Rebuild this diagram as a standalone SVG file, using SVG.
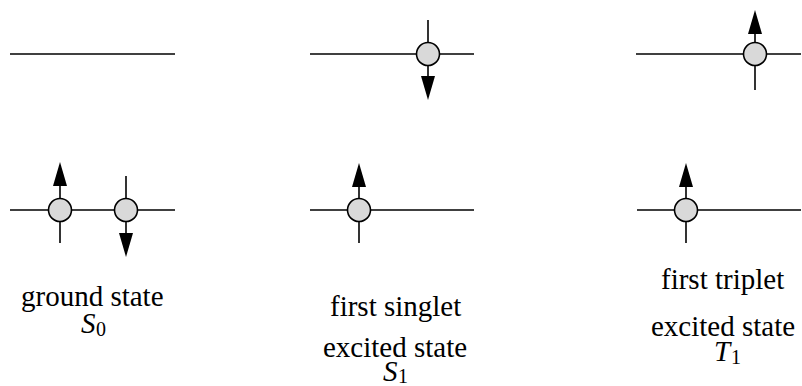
<svg xmlns="http://www.w3.org/2000/svg" width="802" height="386" viewBox="0 0 802 386">
<defs>
<circle id="e" r="11.5" fill="#d9d9d9" stroke="#000" stroke-width="1.6"/>
<polygon id="up" points="0,0 -7,24 7,24" fill="#000"/>
<polygon id="down" points="0,0 -7,-24 7,-24" fill="#000"/>
</defs>
<rect width="802" height="386" fill="#fff"/>
<g id="ground-state">
<g stroke="#000" stroke-width="1.6" fill="none">
<line x1="10" y1="54" x2="175" y2="54"/>
<line x1="10" y1="210" x2="175" y2="210"/>
<line x1="60" y1="243" x2="60" y2="186"/>
<line x1="126" y1="176" x2="126" y2="234"/>
</g>
<use href="#up" x="60" y="162"/>
<use href="#e" x="60" y="210"/>
<use href="#down" x="126" y="257"/>
<use href="#e" x="126" y="210"/>
<text x="21" y="306" font-family="serif" font-size="29">ground state</text>
<text x="81" y="333" font-family="serif" font-size="29" font-style="italic">S</text>
<text x="96" y="336" font-family="serif" font-size="20">0</text>
</g>
<g id="first-singlet">
<g stroke="#000" stroke-width="1.6" fill="none">
<line x1="310" y1="54" x2="474" y2="54"/>
<line x1="428" y1="20" x2="428" y2="78"/>
<line x1="310" y1="210" x2="474" y2="210"/>
<line x1="359" y1="243" x2="359" y2="186"/>
</g>
<use href="#down" x="428" y="100"/>
<use href="#e" x="428" y="54"/>
<use href="#up" x="359" y="163"/>
<use href="#e" x="359" y="210"/>
<text x="330" y="316" font-family="serif" font-size="29">first singlet</text>
<text x="323" y="357" font-family="serif" font-size="29">excited state</text>
<text x="383" y="381" font-family="serif" font-size="29" font-style="italic">S</text>
<text x="398" y="383" font-family="serif" font-size="20">1</text>
</g>
<g id="first-triplet">
<g stroke="#000" stroke-width="1.6" fill="none">
<line x1="636" y1="54" x2="801" y2="54"/>
<line x1="755" y1="90" x2="755" y2="32"/>
<line x1="637" y1="210" x2="801" y2="210"/>
<line x1="686" y1="243" x2="686" y2="186"/>
</g>
<use href="#up" x="755" y="10"/>
<use href="#e" x="755" y="54"/>
<use href="#up" x="686" y="163"/>
<use href="#e" x="686" y="210"/>
<text x="661" y="289" font-family="serif" font-size="29">first triplet</text>
<text x="651" y="336" font-family="serif" font-size="29">excited state</text>
<text x="714" y="361" font-family="serif" font-size="29" font-style="italic">T</text>
<text x="731" y="364" font-family="serif" font-size="20">1</text>
</g>
</svg>
